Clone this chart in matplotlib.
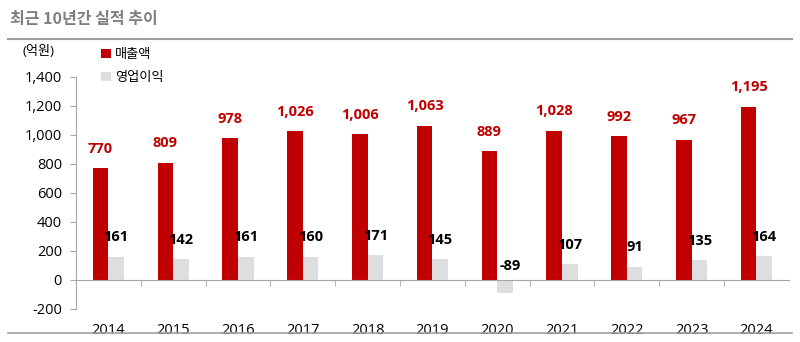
import numpy as np
import matplotlib.pyplot as plt

plt.rcParams['font.family'] = ['Open Sans', 'Noto Sans CJK KR', 'DejaVu Sans']

years = ['2014', '2015', '2016', '2017', '2018', '2019', '2020', '2021', '2022', '2023', '2024']
sales = [770, 809, 978, 1026, 1006, 1063, 889, 1028, 992, 967, 1195]
op_profit = [161, 142, 161, 160, 171, 145, -89, 107, 91, 135, 164]

red = '#C00000'
gray = '#DEDEDE'
axis_gray = '#A6A6A6'

fig = plt.figure(figsize=(8, 3.42), dpi=100)
ax = fig.add_axes([0.095, 0.0965, 0.891, 0.6785])

x = np.arange(len(years))
w = 0.24
ax.bar(x - w / 2, sales, w, color=red, label='매출액')
ax.bar(x + w / 2, op_profit, w, color=gray, label='영업이익')

for i, v in enumerate(sales):
    ax.annotate(f'{v:,}', (x[i] - w / 2, v), xytext=(0, 14), textcoords='offset points',
                ha='center', va='center', color=red, fontsize=10.5, fontweight='bold')
for i, v in enumerate(op_profit):
    # negative value: label sits just above the zero line
    dx, dy = (0.08, 10) if v < 0 else (0, 14)
    ax.annotate(f'{v:,}', (x[i] + w / 2 + dx, max(v, 0)), xytext=(0, dy), textcoords='offset points',
                ha='center', va='center', color='black', fontsize=10.5, fontweight='bold')

ax.set_xlim(-0.5, len(years) - 0.5)
ax.set_ylim(-200, 1400)
ax.set_yticks(range(-200, 1401, 200))
ax.set_yticklabels([f'{t:,}' for t in range(-200, 1401, 200)], fontsize=10.5)

ax.spines['top'].set_visible(False)
ax.spines['right'].set_visible(False)
ax.spines['left'].set_color(axis_gray)
ax.spines['bottom'].set_position(('data', 0))
ax.spines['bottom'].set_color(axis_gray)
ax.tick_params(axis='y', length=4, color=axis_gray, pad=6)

ax.set_xticks(x)
ax.set_xticklabels(years, fontsize=10.5)
ax.tick_params(axis='x', which='major', length=0, pad=31)
ax.set_xticks(np.arange(0.5, len(years) - 1, 1), minor=True)
ax.tick_params(axis='x', which='minor', length=4, color=axis_gray, direction='out')

leg = fig.legend(loc='upper left', bbox_to_anchor=(0.112, 0.894), frameon=False,
                 fontsize=9.5, handlelength=0.7, handleheight=0.7, handletextpad=0.3,
                 labelspacing=0.75)

fig.text(0.028, 0.848, '(억원)', fontsize=9.5, va='center')
fig.text(0.012, 0.945, '최근 10년간 실적 추이', fontsize=11.5, fontweight='bold',
         color='#7F7F7F', va='center', family=['Noto Sans CJK KR'])
fig.add_artist(plt.Line2D([0.01, 0.99], [0.885, 0.885], color='#A0A0A0', lw=1.5))
fig.add_artist(plt.Line2D([0.01, 0.99], [0.025, 0.025], color='#A0A0A0', lw=1.2))

fig.savefig('out.png', dpi=100)
